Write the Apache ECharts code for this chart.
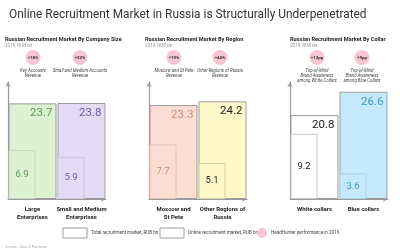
<!DOCTYPE html>
<html>
<head>
<meta charset="utf-8">
<script src="https://cdn.jsdelivr.net/npm/echarts@6/dist/echarts.min.js"></script>
<style>
  html, body { margin: 0; padding: 0; background: #fff; }
  #chart { width: 400px; height: 251px; }
</style>
</head>
<body>
<div id="chart"></div>
<script>
// data
var panelTitles = ['Russian Recruitment Market By Company Size', 'Russian Recruitment Market By Region', 'Russian Recruitment Market By Collar'];
var categories = [
  ['Large\nEnterprises', 'Small and Medium\nEnterprises'],
  ['Moscow and\nSt Pete', 'Other Regions of\nRussia'],
  ['White collars', 'Blue collars']
];
var totalMarket = [[23.7, 23.8], [23.3, 24.2], [20.8, 26.6]];
var onlineMarket = [[6.9, 5.9], [7.7, 5.1], [9.2, 3.6]];
var badges = [['+18%', '+32%'], ['+19%', '+44%'], ['+12pp', '+9pp']];
var badgeNotes = [
  ['Key Accounts\nRevenue', 'Small and Medium Accounts\nRevenue'],
  ['Moscow and St Pete\nRevenue', 'Other Regions of Russia\nRevenue'],
  ['Top-of-Mind\nBrand Awareness\namong White Collars', 'Top-of-Mind\nBrand Awareness\namong Blue Collars']
];
var legendNames = ['Total recruitment market, RUB bn', 'Online recruitment market, RUB bn', 'HeadHunter performance in 2019'];

// styles
var FONT = "'Liberation Sans Narrow', Roboto, sans-serif";
var fills = [['#dcf2d2', '#e3dbf3'], ['#fcddd3', '#fff8c9'], ['#ffffff', '#c5e9fb']];
var innerBorders = [['#c4d9bb', '#cdc3e3'], ['#ebc3b6', '#d9d0a0'], ['#c8c8c8', '#a9d3e6']];
var labelColors = [['#5c9a51', '#6c58a6'], ['#c98f6f', '#222222'], ['#222222', '#3a9cc6']];
var panelLeft = [8, 149, 290];
var titleLeft = [5, 145, 290];
var badgeX = [[33, 80], [174, 220], [317, 362]];

var chart = echarts.init(document.getElementById('chart'));

var grids = [], xAxes = [], yAxes = [], series = [], graphics = [];

for (var i = 0; i < 3; i++) {
  grids.push({ left: panelLeft[i], top: 82, width: 98, height: 117 });
  xAxes.push({
    type: 'category', gridIndex: i, data: categories[i],
    axisLine: { onZero: false, symbol: ['none', 'arrow'], symbolSize: [4, 5], lineStyle: { color: '#9a9a9a', width: 1.2 } },
    axisTick: { show: false },
    axisLabel: { fontFamily: FONT, fontWeight: 'bold', fontSize: 6, lineHeight: 8, color: '#222', margin: 6, interval: 0 }
  });
  yAxes.push({
    type: 'value', gridIndex: i, min: 0, max: 29,
    axisLine: { show: true, symbol: ['none', 'arrow'], symbolSize: [4, 5], lineStyle: { color: '#9a9a9a', width: 1.2 } },
    axisTick: { show: false }, axisLabel: { show: false }, splitLine: { show: false }
  });
  yAxes.push({ type: 'value', gridIndex: i, min: 0, max: 16.5, show: false, splitLine: { show: false } });

  series.push({
    type: 'bar', name: legendNames[1], xAxisIndex: i, yAxisIndex: 2 * i + 1,
    barWidth: 27, barGap: '-100%', z: 4,
    data: onlineMarket[i].map(function (v, j) {
      return {
        value: v,
        itemStyle: { color: fills[i][j], borderColor: innerBorders[i][j], borderWidth: 1 },
        label: { color: labelColors[i][j] }
      };
    }),
    label: { show: true, position: 'inside', fontFamily: FONT, fontSize: 9.5 }
  });
  series.push({
    type: 'bar', name: legendNames[0], xAxisIndex: i, yAxisIndex: 2 * i,
    barWidth: 48, barGap: '-100%', z: 2,
    data: totalMarket[i].map(function (v, j) {
      return {
        value: v,
        itemStyle: { color: fills[i][j], borderColor: '#9d9d9d', borderWidth: 1 },
        label: { color: labelColors[i][j] }
      };
    }),
    label: { show: true, position: 'insideTopRight', distance: 4, fontFamily: FONT, fontSize: 11.5 }
  });

  // panel headings
  graphics.push({ type: 'text', left: titleLeft[i], top: 37,
    style: { text: panelTitles[i], font: 'bold 5.6px ' + FONT, fill: '#222' } });
  graphics.push({ type: 'text', left: titleLeft[i], top: 43.5,
    style: { text: '2019, RUB bn', font: '4.6px ' + FONT, fill: '#999' } });

  // HeadHunter badges
  for (var j = 0; j < 2; j++) {
    graphics.push({ type: 'circle', shape: { cx: badgeX[i][j], cy: 57.5, r: 7.5 },
      style: { fill: '#f7c6d2' } });
    graphics.push({ type: 'text', x: badgeX[i][j], y: 57.5,
      style: { text: badges[i][j], font: 'bold 4.4px ' + FONT, fill: '#333', align: 'center', verticalAlign: 'middle' } });
    graphics.push({ type: 'text', x: badgeX[i][j], y: 68,
      style: { text: badgeNotes[i][j], font: 'italic 4.4px ' + FONT, lineHeight: 5, fill: '#444', align: 'center', verticalAlign: 'top' } });
  }
}

// legend strip
graphics.push({ type: 'rect', shape: { x: 63, y: 228, width: 24, height: 10 }, style: { fill: '#fff', stroke: '#9d9d9d', lineWidth: 1 } });
graphics.push({ type: 'text', x: 91, y: 233, style: { text: legendNames[0], font: '4.6px ' + FONT, fill: '#444', verticalAlign: 'middle' } });
graphics.push({ type: 'rect', shape: { x: 160, y: 228, width: 24, height: 10 }, style: { fill: '#fff', stroke: '#9d9d9d', lineWidth: 1 } });
graphics.push({ type: 'text', x: 188, y: 233, style: { text: legendNames[1], font: '4.6px ' + FONT, fill: '#444', verticalAlign: 'middle' } });
graphics.push({ type: 'circle', shape: { cx: 262, cy: 233, r: 5 }, style: { fill: '#f7c6d2' } });
graphics.push({ type: 'text', x: 271, y: 233, style: { text: legendNames[2], font: '4.6px ' + FONT, fill: '#444', verticalAlign: 'middle' } });
graphics.push({ type: 'text', x: 5, y: 247, style: { text: "Source: J'son & Partners", font: '3.8px ' + FONT, fill: '#aaa', verticalAlign: 'middle' } });

chart.setOption({
  animation: false,
  title: {
    text: 'Online Recruitment Market in Russia is Structurally Underpenetrated',
    left: 4, top: 4,
    textStyle: { fontFamily: FONT, fontSize: 11.9, fontWeight: 'normal', color: '#333' }
  },
  grid: grids,
  xAxis: xAxes,
  yAxis: yAxes,
  series: series,
  graphic: graphics
});
</script>
</body>
</html>
